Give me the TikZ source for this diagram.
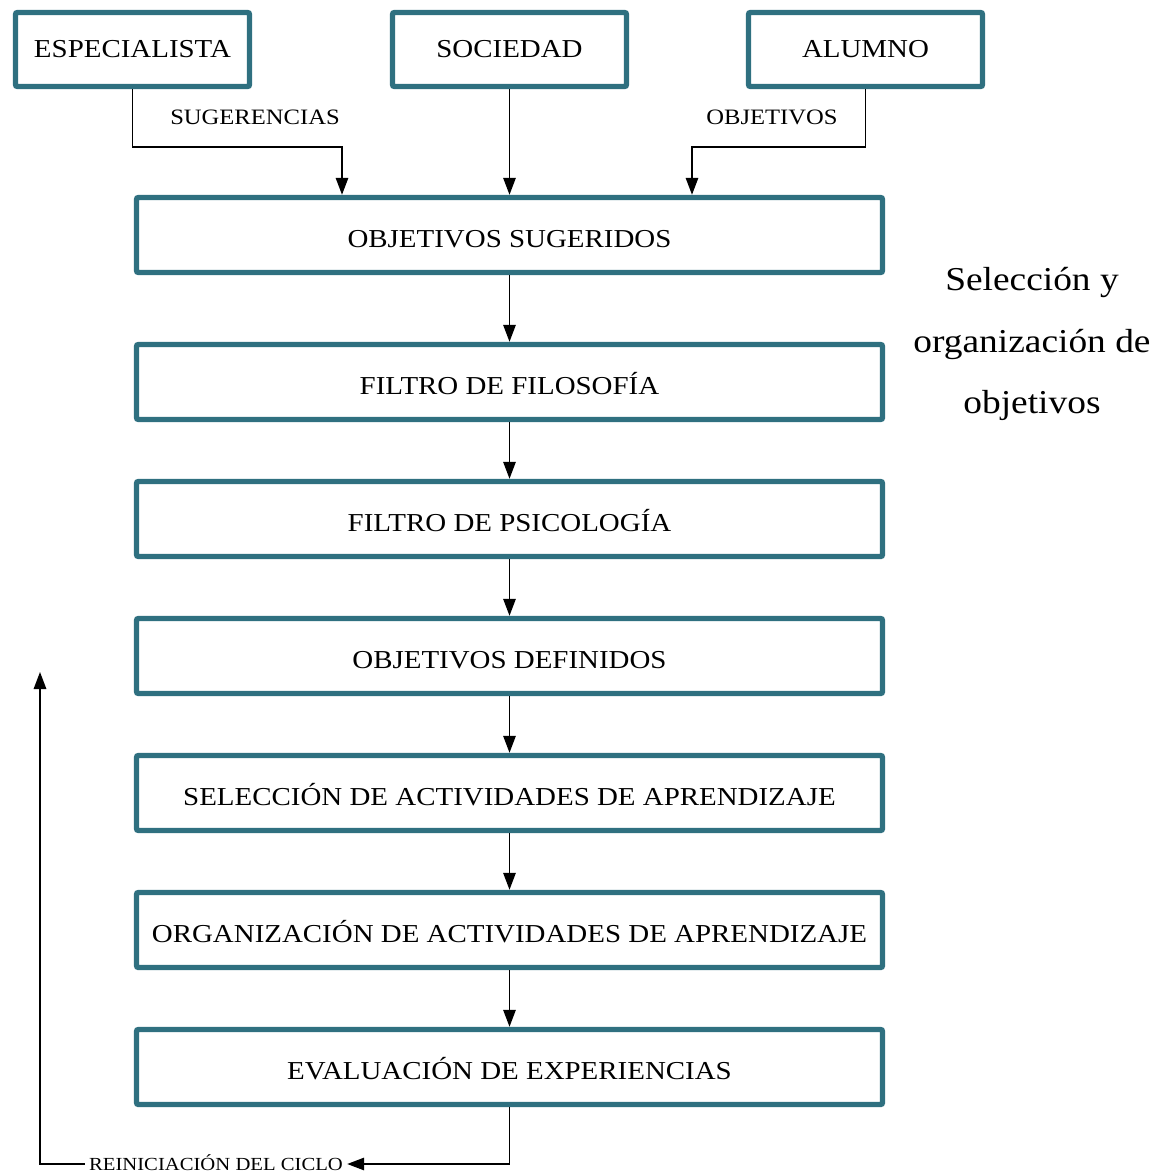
\documentclass[tikz,border=0pt]{standalone}
\usepackage{fontspec}
\setmainfont{Liberation Serif}[FakeStretch=1.12]
\usetikzlibrary{arrows.meta}
\definecolor{boxteal}{RGB}{47,112,128}
\tikzset{
	topbox/.style={draw=boxteal, line width=3.1pt, rounded corners=1.2pt, minimum width=4.68cm, minimum height=1.48cm, inner sep=0pt, font=\fontsize{14.7}{17}\selectfont},
	mainbox/.style={topbox, minimum width=14.92cm, minimum height=1.5cm, text height=14pt, text depth=0pt},
	flow/.style={line width=0.85pt, -{Triangle[length=0.34cm,width=0.25cm]}},
	flowlabel/.style={inner sep=0pt, font=\fontsize{12.5}{14}\selectfont}
}

\begin{document}
\begin{tikzpicture}
	\useasboundingbox (0,0) rectangle (23.18,-23.46);
	% sources
	\node[topbox] (esp) at (2.65,-0.99) {ESPECIALISTA};
	\node[topbox] (soc) at (10.19,-0.99) {SOCIEDAD};
	\node[topbox] (alu) at (17.31,-0.99) {ALUMNO};
	% main chain
	\node[mainbox] (sug) at (10.19,-4.70) {OBJETIVOS SUGERIDOS};
	\node[mainbox] (fil) at (10.19,-7.64) {FILTRO DE FILOSOFÍA};
	\node[mainbox] (psi) at (10.19,-10.38) {FILTRO DE PSICOLOGÍA};
	\node[mainbox] (def) at (10.19,-13.12) {OBJETIVOS DEFINIDOS};
	\node[mainbox] (sel) at (10.19,-15.86) {SELECCIÓN DE ACTIVIDADES DE APRENDIZAJE};
	\node[mainbox] (org) at (10.19,-18.60) {ORGANIZACIÓN DE ACTIVIDADES DE APRENDIZAJE};
	\node[mainbox] (eva) at (10.19,-21.34) {EVALUACIÓN DE EXPERIENCIAS};
	% side note
	\node[align=center, font=\fontsize{19}{35.2}\selectfont] (nota) at (20.64,-6.88)
		{Selección y\\organización de\\objetivos};
	% labels
	\node[flowlabel] (sugl) at (5.10,-2.34) {SUGERENCIAS};
	\node[flowlabel] (objl) at (15.44,-2.34) {OBJETIVOS};
	\node[inner sep=0.08cm, text height=7pt, text depth=0pt, font=\fontsize{10.5}{12}\selectfont] (reini) at (4.32,-23.28) {REINICIACIÓN DEL CICLO};
	\coordinate (kneeL) at (6.84,-2.94);
	\coordinate (kneeR) at (13.84,-2.94);
	\coordinate (back) at (10.19,-23.28);
	\coordinate (upend) at (0.80,-13.44);
	% connectors
	\draw[flow] (esp.south) |- (kneeL) -- (kneeL |- sug.north);
	\draw[flow] (soc) -- (sug);
	\draw[flow] (alu.south) |- (kneeR) -- (kneeR |- sug.north);
	\draw[flow] (sug) -- (fil);
	\draw[flow] (fil) -- (psi);
	\draw[flow] (psi) -- (def);
	\draw[flow] (def) -- (sel);
	\draw[flow] (sel) -- (org);
	\draw[flow] (org) -- (eva);
	\draw[flow] (eva.south) -- (back) -- (reini.east);
	\draw[flow] (reini.west) -| (upend);
\end{tikzpicture}
\end{document}
